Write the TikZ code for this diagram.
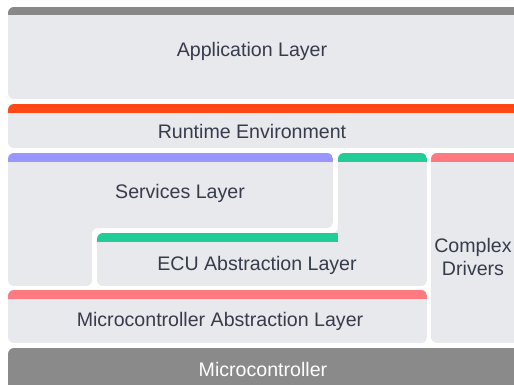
\documentclass[tikz,border=0pt]{standalone}
\usepackage{fontspec}
\setmainfont{Liberation Sans}

\definecolor{panelgray}{HTML}{E8E9ED}
\definecolor{bargray}{HTML}{888888}
\definecolor{rteorange}{HTML}{FF4814}
\definecolor{srvpurple}{HTML}{9A96FF}
\definecolor{ecugreen}{HTML}{22CC96}
\definecolor{mcalpink}{HTML}{FF7A80}
\definecolor{mcugray}{HTML}{8A8A8A}
\definecolor{labeltext}{HTML}{363C4A}

\tikzset{
  panel/.style={fill=panelgray, rounded corners=4.5pt},
  label/.style={text=labeltext, font=\fontsize{14.7}{17.5}\selectfont, align=center},
}

\begin{document}
\begin{tikzpicture}[x=0.75pt,y=0.75pt,yscale=-1,xscale=1]
\useasboundingbox (0,0) rectangle (514,385);

%Shape: Application Layer
\begin{scope}
\clip [rounded corners=4.5pt] (8,7) rectangle (530,99);
\fill [panelgray] (8,7) rectangle (530,99);
\fill [bargray] (8,7) rectangle (530,15);
\end{scope}
%Shape: Runtime Environment
\begin{scope}
\clip [rounded corners=4.5pt] (8,104) rectangle (530,148);
\fill [panelgray] (8,104) rectangle (530,148);
\fill [rteorange] (8,104) rectangle (530,113);
\end{scope}
%Shape: Services Layer (L shape)
\begin{scope}
\clip [rounded corners=4.5pt] (8,153) -- (333,153) -- (333,228) -- (92,228) -- (92,286) -- (8,286) -- cycle;
\fill [panelgray] (8,153) rectangle (333,286);
\fill [srvpurple] (8,153) rectangle (333,162);
\end{scope}
%Shape: ECU Abstraction Layer (inverted L)
\begin{scope}
\clip [rounded corners=4.5pt] (338,153) -- (427,153) -- (427,286) -- (97,286) -- (97,233) -- (338,233) -- cycle;
\fill [panelgray] (97,153) rectangle (427,286);
\fill [ecugreen] (338,153) rectangle (427,162);
\fill [ecugreen] (97,233) rectangle (338,242);
\end{scope}
%Shape: Microcontroller Abstraction Layer
\begin{scope}
\clip [rounded corners=4.5pt] (8,290) rectangle (427,343);
\fill [panelgray] (8,290) rectangle (427,343);
\fill [mcalpink] (8,290) rectangle (427,299);
\end{scope}
%Shape: Complex Drivers
\begin{scope}
\clip [rounded corners=4.5pt] (431,153) rectangle (530,343);
\fill [panelgray] (431,153) rectangle (530,343);
\fill [mcalpink] (431,153) rectangle (530,162);
\end{scope}
%Shape: Microcontroller
\fill [mcugray, rounded corners=4.5pt] (8,348) rectangle (530,395);

% Text Node
\node [label] (app) at (252,51) {Application Layer};
% Text Node
\node [label] (rte) at (252,131) {Runtime Environment};
% Text Node
\node [label] (srv) at (180,193) {Services Layer};
% Text Node
\node [label] (ecual) at (257,265) {ECU Abstraction Layer};
% Text Node
\node [label] (mcal) at (220,321) {Microcontroller Abstraction Layer};
% Text Node
\node [label] (cdd) at (473,257) {Complex\\Drivers};
% Text Node
\node [label, text=white] (mcu) at (263,369) {Microcontroller};
\end{tikzpicture}
\end{document}
